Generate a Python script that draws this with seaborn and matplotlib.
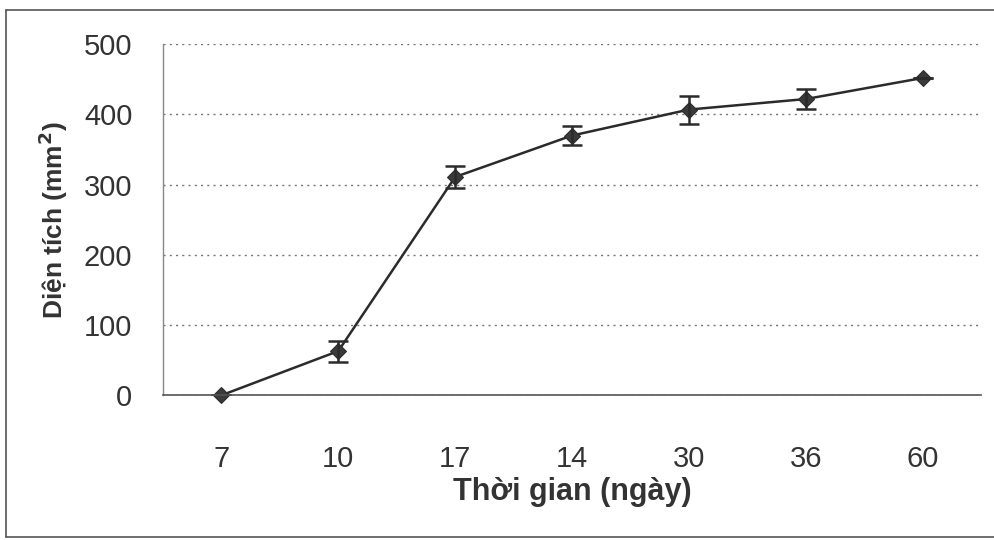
import matplotlib
matplotlib.use("Agg")
import numpy as np
import pandas as pd
import seaborn as sns
import matplotlib.pyplot as plt
from matplotlib.lines import Line2D

# --- DATA ---
days = ["7", "10", "17", "14", "30", "36", "60"]
area = [0, 63, 311, 370, 407, 422, 452]
area_err = [0, 15, 16, 13, 20, 14, 0]

df = pd.DataFrame({"day": days, "area": area, "err": area_err})

# --- STYLE ---
sns.set_style("white")
plt.rcParams["font.family"] = ["Liberation Sans", "DejaVu Sans"]

fig = plt.figure(figsize=(9.94, 5.4), dpi=100)
ax = fig.add_axes([0.164, 0.268, 0.823, 0.65])

pos = np.arange(len(days))
sns.lineplot(x=pos, y=df["area"], ax=ax, color="#2b2b2b", lw=1.8,
             marker="D", markersize=8.5, markeredgecolor="#2b2b2b",
             markerfacecolor="#3a3a3a")
ax.lines[0].set_clip_on(False)
ax.errorbar(pos, df["area"], yerr=df["err"], fmt="none", ecolor="#2b2b2b",
            elinewidth=1.8, capsize=7, capthick=1.8)

ax.set_xlim(-0.5, len(days) - 0.5)
ax.set_ylim(0, 500)
ax.set_yticks([0, 100, 200, 300, 400, 500])
ax.set_xticks(pos)
ax.set_xticklabels(days)

# Excel-like ticks between categories
ax.set_xticks(np.arange(len(days) + 1) - 0.5, minor=True)
ax.tick_params(axis="x", which="major", length=0, pad=36, labelsize=21, colors="#333333")
ax.tick_params(axis="x", which="minor", length=7, width=1, direction="out", color="#444444")
ax.tick_params(axis="y", length=8, width=1, direction="out", color="#999999",
               pad=14, labelsize=21, labelcolor="#333333")

ax.yaxis.grid(True, linestyle=(0, (1.5, 3)), color="#777777", lw=1)
ax.set_axisbelow(True)
for s in ["top", "right"]:
    ax.spines[s].set_visible(False)
ax.spines["left"].set_color("#888888")
ax.spines["bottom"].set_color("#555555")
ax.spines["left"].set_linewidth(1)
ax.spines["bottom"].set_linewidth(1.2)

ax.set_xlabel("Thời gian (ngày)", fontsize=22, fontweight="bold", color="#333333", labelpad=3)
ax.set_ylabel("Diện tích (mm$^\\mathbf{2}$)", fontsize=19, fontweight="bold", color="#333333", labelpad=10)

# frame around figure (right side runs off the scan)
for xs, ys in [([0.006, 0.006], [0.005, 0.982]),
               ([0.006, 1.0], [0.982, 0.982]),
               ([0.006, 1.0], [0.005, 0.005])]:
    fig.add_artist(Line2D(xs, ys, transform=fig.transFigure, color="#555555", lw=1.2))

fig.savefig("out.png", dpi=100)
